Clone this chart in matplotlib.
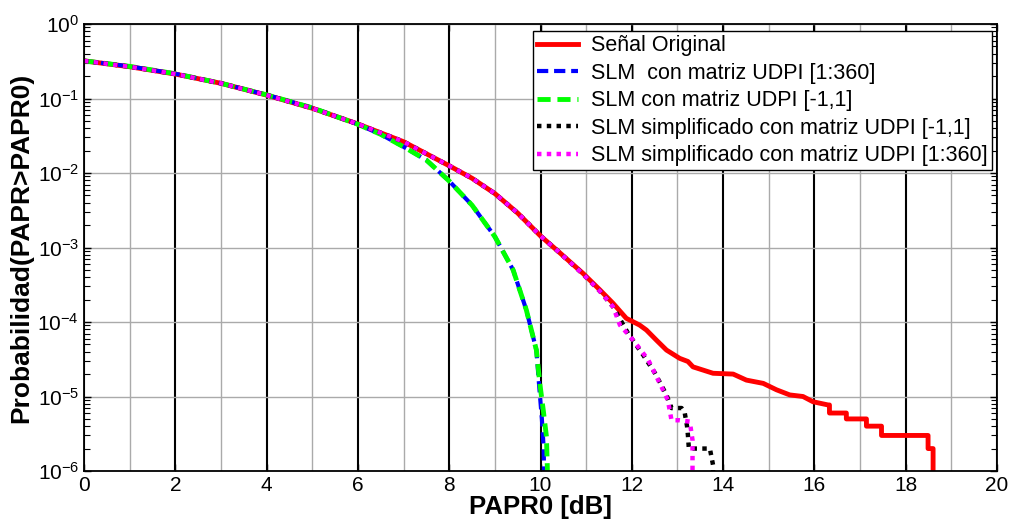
import numpy as np
import matplotlib
matplotlib.use('Agg')
import matplotlib.pyplot as plt
from matplotlib.ticker import FixedLocator, LogLocator, NullFormatter

plt.rcParams['font.family'] = ['Liberation Sans', 'DejaVu Sans']
plt.rcParams['mathtext.fontset'] = 'custom'
plt.rcParams['mathtext.rm'] = 'Liberation Sans'
plt.rcParams['mathtext.default'] = 'regular'

# curvas CCDF
orig_x = [0, 1, 2, 3, 4, 5, 6, 7, 8, 8.5, 9, 9.5, 10, 10.35, 10.93, 11.30, 11.59, 11.88,
          12.17, 12.32, 12.54, 12.76, 13.05, 13.23, 13.34, 13.78, 14.22, 14.51, 14.88,
          15.17, 15.46, 15.75, 15.97, 16.30, 16.33, 16.33, 16.70, 16.70, 17.14, 17.14,
          17.47, 17.47, 18.49, 18.49, 18.60, 18.60]
orig_y = [0.32, 0.267, 0.213, 0.16, 0.111, 0.074, 0.0455, 0.0263, 0.0125, 8.5e-3, 5.3e-3,
          2.9e-3, 1.43e-3, 9.3e-4, 4.5e-4, 2.7e-4, 1.78e-4, 1.12e-4, 9.1e-5, 7.8e-5, 5.7e-5,
          4.2e-5, 3.25e-5, 2.95e-5, 2.5e-5, 2.05e-5, 2.0e-5, 1.66e-5, 1.5e-5, 1.23e-5,
          1.05e-5, 1.0e-5, 8.5e-6, 7.7e-6, 7.7e-6, 6e-6, 6e-6, 5e-6, 5e-6, 4e-6, 4e-6,
          3e-6, 3e-6, 2e-6, 2e-6, 8e-7]

udpi360_x = [0, 1, 2, 3, 4, 5, 6, 6.5, 7, 7.5, 8, 8.5, 9, 9.4, 9.69, 9.8, 9.91, 9.97,
             10.03, 10.07, 10.08]
udpi360_y = [0.32, 0.27, 0.215, 0.16, 0.112, 0.075, 0.045, 0.033, 0.0225, 0.0149, 0.0078,
             3.7e-3, 1.4e-3, 5e-4, 1.45e-4, 7.8e-5, 4.2e-5, 1.4e-5, 5e-6, 2e-6, 8e-7]

udpi11_x = [0, 1, 2, 3, 4, 5, 6, 6.5, 7, 7.5, 8, 8.5, 9, 9.4, 9.69, 9.8, 9.91, 9.985,
            10.06, 10.13, 10.15, 10.15]
udpi11_y = [0.32, 0.27, 0.215, 0.16, 0.112, 0.075, 0.045, 0.033, 0.0225, 0.0149, 0.0078,
            3.7e-3, 1.4e-3, 5e-4, 1.45e-4, 7.8e-5, 4.2e-5, 1.5e-5, 6.6e-6, 2.9e-6, 1.1e-6,
            8e-7]

simp11_x = [0, 1, 2, 3, 4, 5, 6, 7, 8, 8.5, 9, 9.5, 10, 10.35, 10.93, 11.30, 11.59, 11.92,
            12.25, 12.50, 12.76, 12.87, 13.09, 13.16, 13.21, 13.23, 13.25, 13.71, 13.78,
            13.78]
simp11_y = [0.32, 0.267, 0.213, 0.16, 0.111, 0.074, 0.0455, 0.0263, 0.0125, 8.5e-3, 5.3e-3,
            2.9e-3, 1.43e-3, 9.3e-4, 4.4e-4, 2.6e-4, 1.6e-4, 7e-5, 3.6e-5, 2.1e-5, 1.05e-5,
            7e-6, 7e-6, 6e-6, 4e-6, 3e-6, 2e-6, 2e-6, 1.2e-6, 8e-7]

simp360_x = [0, 1, 2, 3, 4, 5, 6, 7, 8, 8.5, 9, 9.5, 10, 10.35, 10.93, 11.30, 11.59, 11.74,
             12.03, 12.36, 12.65, 12.79, 12.87, 13.05, 13.27, 13.33, 13.33]
simp360_y = [0.32, 0.267, 0.213, 0.16, 0.111, 0.074, 0.0455, 0.0263, 0.0125, 8.5e-3, 5.3e-3,
             2.9e-3, 1.43e-3, 9.3e-4, 4.4e-4, 2.6e-4, 1.6e-4, 9.1e-5, 5.7e-5, 3.1e-5,
             1.35e-5, 8.9e-6, 4.8e-6, 4.8e-6, 4.6e-6, 2.6e-6, 8e-7]

labels = ['Señal Original',
          'SLM  con matriz UDPI [1:360]',
          'SLM con matriz UDPI [-1,1]',
          'SLM simplificado con matriz UDPI [-1,1]',
          'SLM simplificado con matriz UDPI [1:360]']

fig = plt.figure(figsize=(10.11, 5.27), dpi=100)
ax = fig.add_axes([84/1011, 1-471/527, (997-84)/1011, (471-24)/527])

ax.semilogy(orig_x, orig_y, color='red', lw=3.5, label=labels[0])
ax.semilogy(udpi360_x, udpi360_y, color='blue', lw=3, dashes=(2.7, 1.4), label=labels[1])
ax.semilogy(udpi11_x, udpi11_y, color='#00ff00', lw=3.5, dashes=(2.7, 1.4), label=labels[2])
ax.semilogy(simp11_x, simp11_y, color='black', lw=3.2, dashes=(1, 1.2), label=labels[3])
ax.semilogy(simp360_x, simp360_y, color='magenta', lw=3.2, dashes=(1, 1.2), label=labels[4])

ax.set_xlim(0, 20)
ax.set_ylim(1e-6, 1)
ax.xaxis.set_major_locator(FixedLocator(np.arange(0, 21, 2)))
ax.xaxis.set_minor_locator(FixedLocator(np.arange(1, 20, 2)))
ax.yaxis.set_major_locator(LogLocator(base=10, numticks=10))
ax.yaxis.set_minor_locator(LogLocator(base=10, subs=np.arange(2, 10), numticks=20))
ax.yaxis.set_minor_formatter(NullFormatter())

ax.grid(axis='x', which='major', color='black', lw=1.5)
ax.grid(axis='x', which='minor', color='#aaaaaa', lw=1)
ax.grid(axis='y', which='major', color='#aaaaaa', lw=1)
ax.set_axisbelow(True)

ax.tick_params(which='both', direction='in', top=True, right=True, labelsize=15)
ax.tick_params(which='major', length=5, width=1)
ax.tick_params(axis='y', which='minor', length=4, width=0.8)
ax.tick_params(axis='x', which='minor', length=0)
for s in ax.spines.values():
    s.set_linewidth(1.3)

ax.set_xlabel('PAPR0 [dB]', fontsize=18.5, fontweight='bold', labelpad=0)
ax.set_ylabel('Probabilidad(PAPR>PAPR0)', fontsize=19, fontweight='bold', labelpad=3)

leg = ax.legend(loc='upper right', bbox_to_anchor=(0.9945, 0.9843), borderaxespad=0,
                fontsize=15.5, fancybox=False, framealpha=1, edgecolor='black',
                handlelength=1.9, handletextpad=0.6, labelspacing=0.3, borderpad=0.2)
leg.get_frame().set_linewidth(1)

fig.savefig('out.png', dpi=100)
